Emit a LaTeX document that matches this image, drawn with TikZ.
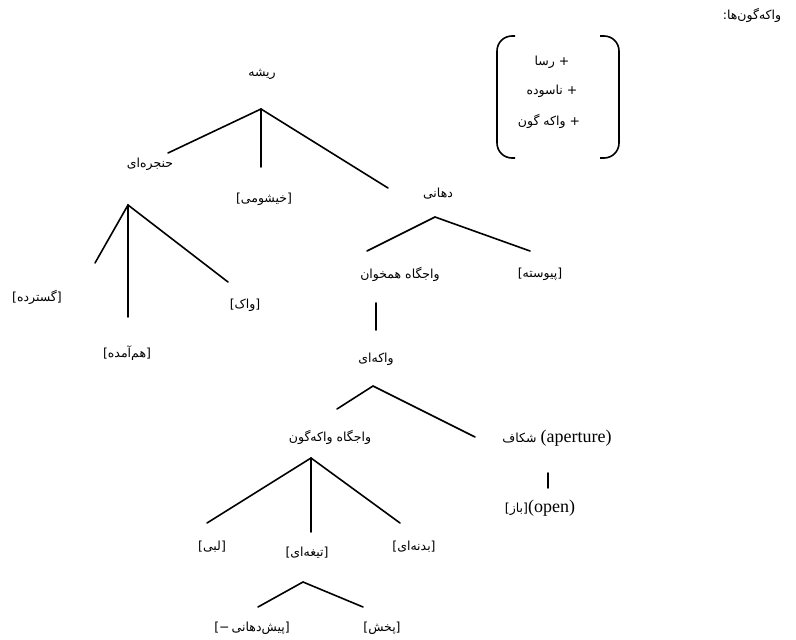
\documentclass[tikz,border=0pt]{standalone}
\usepackage{fontspec}
\setmainfont{Liberation Serif}
\newfontfamily\fa[Script=Arabic]{DejaVu Sans}
\newfontfamily\brk{DejaVu Sans}
\TeXXeTstate=1
% a run of Persian text, set right to left
\newcommand{\pr}[1]{{\fa\beginR #1\endR}}
% a bracketed feature value
\newcommand{\fb}[1]{{\brk[}\pr{#1}{\brk]}}
% Latin gloss
\newcommand{\gl}[1]{{\rmfamily\fontsize{18}{20}\selectfont #1}}
\tikzset{
  lbl/.style={inner sep=0pt, font=\fa\fontsize{12.5}{15}\selectfont},
  branch/.style={line width=1.6pt, line cap=round},
  paren/.style={line width=1.6pt, rounded corners=15pt},
}
\begin{document}
\begin{tikzpicture}[x=1pt, y=-1pt]
\useasboundingbox (0,0) rectangle (796,640);
\fill[white] (0,0) rectangle (796,640);

% heading
\node[lbl] (title) at (752,15) {\pr{واکه‌گون‌ها:}};

% feature matrix
\draw[paren] (515,36) -- (497,36) -- (497,158) -- (515,158);
\draw[paren] (600,36) -- (619,36) -- (619,158) -- (600,158);
\node[lbl] (fson) at (552,62) {\pr{+ رسا}};
\node[lbl] (fapp) at (552,91) {\pr{+ ناسوده}};
\node[lbl] (fvoc) at (549,121) {\pr{+ واکه گون}};

% tree labels
\node[lbl] (root) at (262,74) {\pr{ریشه}};
\node[lbl] (lar) at (150,164) {\pr{حنجره‌ای}};
\node[lbl] (nas) at (264,199) {\fb{خیشومی}};
\node[lbl] (oral) at (438,194) {\pr{دهانی}};
\node[lbl] (spr) at (37,297) {\fb{گسترده}};
\node[lbl] (voi) at (245,305) {\fb{واک}};
\node[lbl] (cgl) at (127,353) {\fb{هم‌آمده}};
\node[lbl] (cpl) at (400,274) {\pr{واجگاه همخوان}};
\node[lbl] (cnt) at (540,274) {\fb{پیوسته}};
\node[lbl] (voc) at (376,359) {\pr{واکه‌ای}};
\node[lbl] (vpl) at (330,437) {\pr{واجگاه واکه‌گون}};
\node[lbl] (apt) at (557,438) {\pr{شکاف} \gl{(aperture)}};
\node[lbl] (opn) at (540,508) {\fb{باز}\gl{(open)}};
\node[lbl] (lab) at (212,547) {\fb{لبی}};
\node[lbl] (cor) at (307,553) {\fb{تیغه‌ای}};
\node[lbl] (dor) at (414,547) {\fb{بدنه‌ای}};
\node[lbl] (ant) at (252,628) {{\brk[−\,}\pr{پیش‌دهانی}{\brk]}};
\node[lbl] (dst) at (382,628) {\fb{پخش}};

% branching points and branch ends
\coordinate (j0) at (261,109);
\coordinate (e01) at (168,153);
\coordinate (e02) at (261,167);
\coordinate (e03) at (388,188);
\coordinate (j1) at (128,205);
\coordinate (e11) at (95,263);
\coordinate (e12) at (128,317);
\coordinate (e13) at (228,282);
\coordinate (j3) at (435,217);
\coordinate (e31) at (367,251);
\coordinate (e32) at (530,251);
\coordinate (v1a) at (376,303);
\coordinate (v1b) at (376,330);
\coordinate (j4) at (373,386);
\coordinate (e41) at (337,409);
\coordinate (e42) at (475,437);
\coordinate (j5) at (311,458);
\coordinate (e51) at (207,523);
\coordinate (e52) at (311,532);
\coordinate (e53) at (400,523);
\coordinate (j6) at (303,582);
\coordinate (e61) at (258,607);
\coordinate (e62) at (363,607);
\coordinate (v2a) at (548,473);
\coordinate (v2b) at (548,488);

% branches
\draw[branch] (e01) -- (j0) -- (e03);
\draw[branch] (j0) -- (e02);
\draw[branch] (e11) -- (j1) -- (e13);
\draw[branch] (j1) -- (e12);
\draw[branch] (e31) -- (j3) -- (e32);
\draw[branch] (v1a) -- (v1b);
\draw[branch] (e41) -- (j4) -- (e42);
\draw[branch] (e51) -- (j5) -- (e53);
\draw[branch] (j5) -- (e52);
\draw[branch] (e61) -- (j6) -- (e62);
\draw[branch] (v2a) -- (v2b);
\end{tikzpicture}
\end{document}
